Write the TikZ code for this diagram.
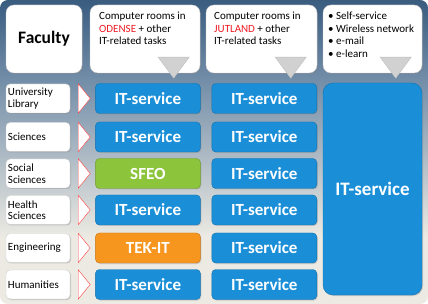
\documentclass[tikz,border=0pt]{standalone}
\usepackage{fontspec}
\setmainfont{Carlito}
\usetikzlibrary{positioning, shadows}

\definecolor{navy}{HTML}{123A63}
\definecolor{bgmid}{HTML}{728DA8}
\definecolor{bglight}{HTML}{ECEAE3}
\definecolor{itblue}{HTML}{1A8FD8}
\definecolor{itgreen}{HTML}{8CC43C}
\definecolor{itorange}{HTML}{F7961E}
\definecolor{odense}{HTML}{EE1C25}

\pgfdeclareverticalshading{bgshade}{100bp}{color(0bp)=(bglight); color(36bp)=(bglight); color(62bp)=(bgmid); color(84bp)=(navy); color(100bp)=(navy)}

\begin{document}
\begin{tikzpicture}[x=1pt, y=-1pt, node distance=8pt,
    head/.style={draw=black!20, fill=white, rounded corners=8pt, minimum height=68pt, inner sep=0pt,
        drop shadow={shadow xshift=1pt, shadow yshift=-1pt, opacity=.35}},
    headtext/.style={anchor=north west, align=left, inner sep=0pt, font=\fontsize{11}{12.5}\selectfont},
    fac/.style={draw=black!20, fill=white, rounded corners=4pt, minimum width=64pt, minimum height=29pt,
        align=left, text width=60pt, inner sep=2pt, font=\fontsize{11}{11.5}\selectfont,
        drop shadow={shadow xshift=1pt, shadow yshift=-1pt, opacity=.35}},
    unit/.style={fill=#1, draw=#1!80!black, rounded corners=4pt, minimum width=105pt, minimum height=30pt,
        text=white, font=\fontsize{17}{19}\selectfont\bfseries,
        drop shadow={shadow xshift=1pt, shadow yshift=-1pt, opacity=.3}},
    pointer/.style={draw=black!25, fill=black!18},
    marker/.style={draw=red!75, fill=white, line join=miter}]

    % background
    \path[shading=bgshade, rounded corners=8pt] (0,0) rectangle (428,304);

    % header row
    \node[head, minimum width=76pt, font=\fontsize{17.5}{19}\selectfont\bfseries] (fac) at (44,39) {Faculty};
    \node[head, minimum width=110pt] (h1) at (145,39) {};
    \node[head, minimum width=111pt] (h2) at (261.5,39) {};
    \node[head, minimum width=99pt] (h3) at (372.5,39) {};
    \node[headtext] (t1) at (99,12)
        {Computer rooms in\\{\color{odense}ODENSE} + other\\IT-related tasks};
    \node[headtext] (t2) at (214,12)
        {Computer rooms in\\{\color{odense}JUTLAND} + other\\IT-related tasks};
    \node[headtext] (t3) at (328,12)
        {\textbullet\ Self-service\\\textbullet\ Wireless network\\\textbullet\ e-mail\\\textbullet\ e-learn};
    \foreach \h in {h1,h2,h3}
        \draw[pointer] ([xshift=-42pt, yshift=16pt]\h.south east) -- ([xshift=-11pt, yshift=16pt]\h.south east)
            -- ([xshift=-26.5pt, yshift=-5pt]\h.south east) -- cycle;

    % faculties
    \node[fac] (lib) at (38,98.5) {University\\Library};
    \node[fac] (sci) at (38,137) {Sciences};
    \node[fac] (soc) at (38,173.5) {Social\\Sciences};
    \node[fac] (hea) at (38,210) {Health\\Sciences};
    \node[fac] (eng) at (38,248) {Engineering};
    \node[fac] (hum) at (38,284.5) {Humanities};

    % local IT units
    \node[unit=itblue, right=25pt of lib] (lib1) {IT-service};
    \node[unit=itblue, right=25pt of sci] (sci1) {IT-service};
    \node[unit=itgreen, right=25pt of soc] (soc1) {SFEO};
    \node[unit=itblue, right=25pt of hea] (hea1) {IT-service};
    \node[unit=itorange, right=25pt of eng] (eng1) {TEK-IT};
    \node[unit=itblue, right=25pt of hum] (hum1) {IT-service};

    % regional IT units
    \node[unit=itblue, right=11pt of lib1] (lib2) {IT-service};
    \node[unit=itblue, right=11pt of sci1] (sci2) {IT-service};
    \node[unit=itblue, right=11pt of soc1] (soc2) {IT-service};
    \node[unit=itblue, right=11pt of hea1] (hea2) {IT-service};
    \node[unit=itblue, right=11pt of eng1] (eng2) {IT-service};
    \node[unit=itblue, right=11pt of hum1] (hum2) {IT-service};

    % common IT service
    \node[unit=itblue, rounded corners=10pt, minimum width=99pt, minimum height=212pt,
        font=\fontsize{19}{21}\selectfont\bfseries] (all) at (372.5,189) {IT-service};

    % red markers
    \foreach \f in {lib,sci,soc,hea,eng,hum}
        \draw[marker] ([xshift=8pt]\f.north east) -- ([xshift=20pt]\f.east)
            -- ([xshift=8pt]\f.south east) -- cycle;
\end{tikzpicture}
\end{document}
